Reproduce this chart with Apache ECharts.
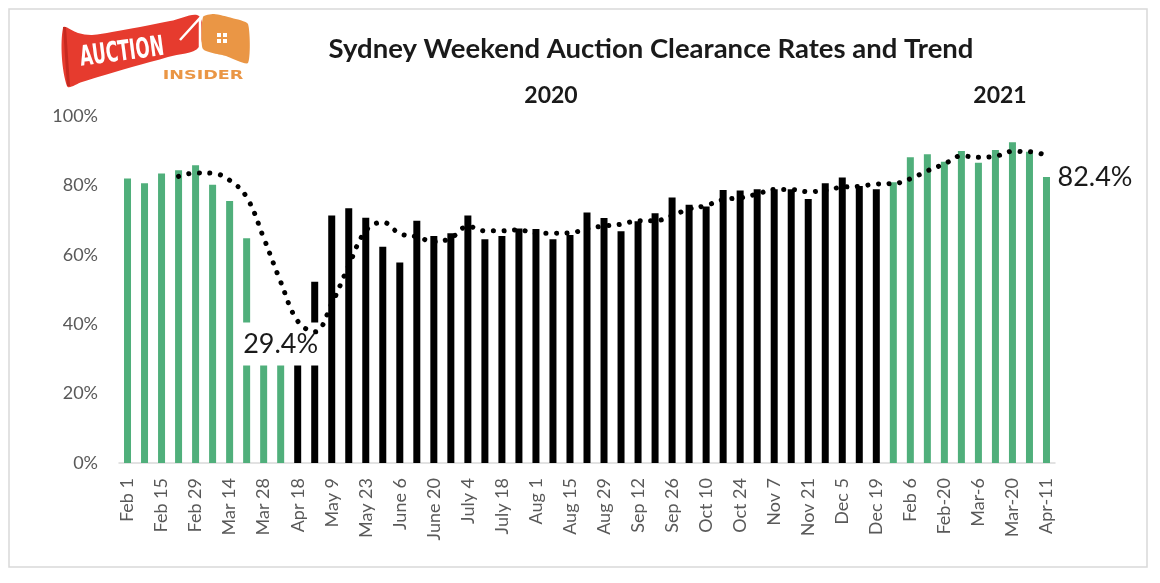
<!DOCTYPE html>
<html>
<head>
<meta charset="utf-8">
<script src="https://cdn.jsdelivr.net/npm/echarts@6/dist/echarts.min.js"></script>
<style>html,body{margin:0;padding:0;background:#fff}#chart{width:1160px;height:583px}</style>
</head>
<body>
<div id="chart"></div>
<script>
// ---- data ----
const categories = [
  "Feb 1","Feb 8","Feb 15","Feb 22","Feb 29","Mar 7","Mar 14","Mar 21","Mar 28","Apr 4",
  "Apr 18","May 2","May 9","May 16","May 23","May 30","June 6","June 13","June 20","June 27",
  "July 4","July 11","July 18","July 25","Aug 1","Aug 8","Aug 15","Aug 22","Aug 29","Sep 5",
  "Sep 12","Sep 19","Sep 26","Oct 3","Oct 10","Oct 17","Oct 24","Oct 31","Nov 7","Nov 14",
  "Nov 21","Nov 28","Dec 5","Dec 12","Dec 19","Jan 30","Feb 6","Feb-13","Feb-20","Feb-27",
  "Mar-6","Mar-13","Mar-20","Mar-27","Apr-11"
];
const clearanceRates = [
  82.0, 80.6, 83.4, 84.4, 85.8, 80.2, 75.5, 64.8, 39.0, 29.4,
  30.5, 52.2, 71.3, 73.4, 70.7, 62.3, 57.8, 69.8, 65.4, 66.2,
  71.3, 64.5, 65.4, 67.6, 67.4, 64.5, 65.7, 72.2, 70.6, 66.8,
  69.7, 72.0, 76.5, 74.4, 73.9, 78.7, 78.5, 78.9, 78.9, 78.9,
  76.1, 80.6, 82.3, 79.8, 78.9, 80.9, 88.1, 89.0, 86.8, 89.9,
  86.5, 90.2, 92.4, 89.7, 82.4
];
const trendValues = [
  null, null, null, 82.6, 83.6, 83.5, 81.5, 76.6, 64.9, 52.2,
  40.9, 37.8, 45.9, 56.9, 66.9, 69.4, 66.1, 65.2, 63.8, 64.8,
  68.2, 66.9, 66.9, 67.2, 66.2, 66.2, 66.3, 67.5, 68.3, 68.8,
  69.8, 69.8, 71.3, 73.2, 74.2, 75.9, 76.4, 77.5, 78.8, 78.8,
  78.2, 78.6, 79.5, 79.7, 80.4, 80.5, 81.9, 84.2, 86.2, 88.5,
  88.1, 88.4, 89.8, 89.7, 88.7
];
const yTicks = [0, 20, 40, 60, 80, 100];
const titleText = "Sydney Weekend Auction Clearance Rates and Trend";
const yearLabels = ["2020", "2021"];
const lowLabel = { index: 9, text: "29.4%" };
const lastLabel = { index: 54, text: "82.4%" };
const highlightedRanges = [[0, 9], [45, 54]];

// ---- styles ----
const GREEN = '#50AF7B';
const BLACK = '#000000';
const FONT = 'Lato, "Open Sans", sans-serif';

function isHighlighted(i) {
  return highlightedRanges.some(r => i >= r[0] && i <= r[1]);
}

const barData = clearanceRates.map((v, i) => ({
  value: v,
  itemStyle: { color: isHighlighted(i) ? GREEN : BLACK }
}));

const chart = echarts.init(document.getElementById('chart'), null, { renderer: 'canvas' });

const option = {
  backgroundColor: '#ffffff',
  animation: false,
  textStyle: { fontFamily: FONT },
  title: {
    text: titleText,
    left: 646, top: 30, textAlign: 'center',
    textStyle: { fontFamily: FONT, fontWeight: 'bold', fontSize: 27.5, color: '#1a1a1a' }
  },
  grid: { left: 119, top: 116, width: 936, height: 347 },
  xAxis: {
    type: 'category',
    data: categories,
    boundaryGap: true,
    axisLine: { lineStyle: { color: '#d9d9d9', width: 1.5 } },
    axisTick: { show: false },
    axisLabel: { interval: 1, rotate: 90, fontSize: 18, color: '#595959', margin: 15, fontFamily: FONT }
  },
  yAxis: {
    type: 'value',
    min: yTicks[0], max: yTicks[yTicks.length - 1], interval: yTicks[1] - yTicks[0],
    axisLine: { show: false },
    axisTick: { show: false },
    splitLine: { show: false },
    axisLabel: { formatter: '{value}%', fontSize: 18, color: '#595959', margin: 21, fontFamily: FONT }
  },
  series: [
    {
      type: 'bar',
      data: barData,
      barWidth: 7,
      z: 2,
      markPoint: {
        z: 3,
        symbol: 'rect',
        symbolSize: 0,
        data: [
          {
            coord: [lowLabel.index, 34.3],
            label: {
              show: true, position: 'inside', formatter: lowLabel.text,
              fontSize: 27, color: '#1a1a1a', fontFamily: FONT,
              backgroundColor: '#ffffff', padding: [8, 1, 8, 1]
            }
          },
          {
            coord: [lastLabel.index, clearanceRates[lastLabel.index]],
            label: {
              show: true, position: 'right', distance: 11, formatter: lastLabel.text,
              fontSize: 27, color: '#1a1a1a', fontFamily: FONT
            }
          }
        ]
      }
    },
    {
      type: 'line',
      data: trendValues,
      z: 10,
      smooth: 0.4,
      showSymbol: false,
      symbol: 'none',
      connectNulls: false,
      lineStyle: { color: '#000', width: 5, type: [0.1, 10.5], cap: 'round' }
    }
  ],
  graphic: [
    { type: 'rect', z: -1, shape: { x: 9, y: 9, width: 1138, height: 558 },
      style: { fill: 'none', stroke: '#d9d9d9', lineWidth: 1.5 } },
    { type: 'text', x: 551, y: 96, style: { text: yearLabels[0], font: 'bold 23px ' + FONT, fill: '#1a1a1a', textAlign: 'center', textVerticalAlign: 'middle' } },
    { type: 'text', x: 1000, y: 96, style: { text: yearLabels[1], font: 'bold 23px ' + FONT, fill: '#1a1a1a', textAlign: 'center', textVerticalAlign: 'middle' } },
    // logo
    { type: 'polygon', shape: { smooth: 0.35, points: [[63,28],[78,33],[92,35],[112,32],[140,27],[170,21],[199,16],[199,47],[168,57],[132,67],[98,77],[82,82],[67,86]] },
      style: { fill: '#E63B2E' } },
    { type: 'polygon', shape: { points: [[63,27],[66,27],[70,86],[67,86]] }, style: { fill: '#C62A20' } },
    { type: 'polygon', shape: { smooth: 0.2, points: [[203,17],[214,14],[232,18],[248,24],[248,63],[226,56],[203,49]] },
      style: { fill: '#EA9645' } },
    { type: 'polyline', shape: { points: [[180,40],[200,18],[200,48]] }, style: { stroke: '#fff', lineWidth: 2.5, fill: 'none' } },
    { type: 'rect', shape: { x: 217, y: 33, width: 4, height: 4 }, style: { fill: '#fff' } },
    { type: 'rect', shape: { x: 223, y: 33, width: 4, height: 4 }, style: { fill: '#fff' } },
    { type: 'rect', shape: { x: 217, y: 39, width: 4, height: 4 }, style: { fill: '#fff' } },
    { type: 'rect', shape: { x: 223, y: 39, width: 4, height: 4 }, style: { fill: '#fff' } },
    { type: 'text', x: 122, y: 53, rotation: 0.13, scaleX: 0.6,
      style: { text: 'AUCTION', font: 'bold 28px "DejaVu Sans", sans-serif', fill: '#fff', textAlign: 'center', textVerticalAlign: 'middle' } },
    { type: 'text', x: 203, y: 76, scaleX: 1.35,
      style: { text: 'INSIDER', font: 'bold 13px "DejaVu Sans", sans-serif', fill: '#EA9645', textAlign: 'center', textVerticalAlign: 'middle' } }
  ]
};
chart.setOption(option);
</script>
</body>
</html>
